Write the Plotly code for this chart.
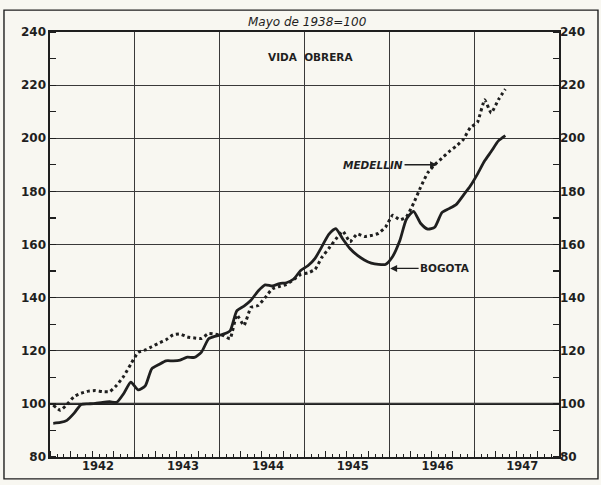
import plotly.graph_objects as go

# ---- data (monthly, Jan 1942 .. May 1947), Mayo de 1938 = 100 ----
months = [f"{1942 + m // 12}-{m % 12 + 1:02d}-15" for m in range(65)]

bogota = [
    92.7, 93.0, 93.8, 96.5, 99.8, 100.0, 100.2, 100.6, 100.8, 100.6, 104.0, 108.2,   # 1942
    105.3, 106.8, 113.2, 114.8, 116.2, 116.2, 116.5, 117.6, 117.5, 119.5, 124.5, 125.5,  # 1943
    126.2, 127.5, 135.0, 136.8, 139.0, 142.5, 144.8, 144.4, 145.3, 145.6, 147.0, 150.2,  # 1944
    152.0, 154.8, 159.0, 163.8, 166.0, 162.0, 158.5, 156.0, 154.2, 153.0, 152.5, 152.5,  # 1945
    155.5, 161.5, 169.5, 172.5, 168.0, 165.8, 166.5, 172.0, 173.5, 175.0, 178.5, 182.0,  # 1946
    186.5, 191.5, 195.0, 199.0, 201.0,                                                   # 1947
]

medellin = [
    99.5, 97.6, 99.8, 102.8, 104.0, 104.8, 105.0, 104.6, 104.6, 107.0, 110.5, 115.0,    # 1942
    119.4, 120.3, 121.5, 122.9, 124.1, 126.0, 126.3, 125.2, 124.8, 124.6, 126.5, 126.2,  # 1943
    125.8, 124.5, 133.5, 129.5, 136.3, 137.0, 140.0, 143.3, 144.2, 145.0, 146.8, 148.7,  # 1944
    149.3, 150.6, 155.0, 158.5, 162.0, 165.0, 161.0, 164.0, 163.0, 163.4, 164.2, 166.5,  # 1945
    171.0, 169.3, 170.4, 175.5, 181.5, 187.0, 190.0, 192.5, 195.0, 197.0, 199.5, 204.0,  # 1946
    206.0, 214.5, 209.5, 214.5, 218.5,                                                   # 1947
]

year_labels = ["1942", "1943", "1944", "1945", "1946", "1947"]
year_label_pos = ["1942-07-27", "1943-07-27", "1944-07-27", "1945-07-27", "1946-07-27", "1947-07-27"]
year_bounds = ["1943-01-01", "1944-01-01", "1945-01-01", "1946-01-01", "1947-01-01"]
y_ticks = [80, 100, 120, 140, 160, 180, 200, 220, 240]
BASE = 100

INK = "#1f1f1f"
GRID = "#3a3a3a"
PAPER = "#f8f7f1"
FONT = "DejaVu Sans"

fig = go.Figure()

fig.add_trace(go.Scatter(
    x=months, y=bogota, mode="lines", name="BOGOTA",
    line=dict(color=INK, width=2.8, shape="spline", smoothing=0.6),
    xaxis="x", yaxis="y", showlegend=False, hoverinfo="skip",
))
fig.add_trace(go.Scatter(
    x=months, y=medellin, mode="lines", name="MEDELLIN",
    line=dict(color=INK, width=3, dash="3px,3px", shape="spline", smoothing=0.4),
    xaxis="x2", yaxis="y2", showlegend=False, hoverinfo="skip",
))

xr = ["1942-01-01", "1948-01-01"]
yr = [80, 240]
tickfont = dict(family=FONT, size=12, color=INK, weight="bold")

fig.update_layout(
    width=601, height=485,
    margin=dict(l=50, r=42, t=32, b=25),
    paper_bgcolor=PAPER, plot_bgcolor=PAPER,
    hovermode=False,
    xaxis=dict(
        type="date", range=xr, tickmode="array", tickvals=year_bounds,
        showticklabels=False, ticks="", showgrid=True, gridcolor=GRID, gridwidth=1.2,
        showline=True, linecolor=INK, linewidth=1.6, mirror=True, zeroline=False,
        minor=dict(dtick="M3", tick0="1942-01-01", ticks="inside", ticklen=6,
                   tickcolor=INK, tickwidth=1, showgrid=False),
    ),
    xaxis2=dict(
        type="date", range=xr, overlaying="x", anchor="y2", side="bottom",
        tickmode="array", tickvals=year_label_pos, ticktext=year_labels,
        tickfont=dict(family=FONT, size=11.5, color=INK, weight="bold"),
        ticks="", showgrid=False, showline=False, zeroline=False,
        minor=dict(dtick="M1", tick0="1942-01-01", ticks="inside", ticklen=3.5,
                   tickcolor=INK, tickwidth=1, showgrid=False),
    ),
    yaxis=dict(
        range=yr, tickmode="array", tickvals=y_ticks, tickfont=tickfont,
        ticks="", showgrid=True, gridcolor=GRID, gridwidth=1.2,
        showline=True, linecolor=INK, linewidth=1.6, mirror=True, zeroline=False,
        minor=dict(dtick=10, tick0=80, ticks="inside", ticklen=6,
                   tickcolor=INK, tickwidth=1.2, showgrid=False),
    ),
    yaxis2=dict(
        range=yr, overlaying="y", anchor="x2", side="right",
        tickmode="array", tickvals=y_ticks, tickfont=tickfont,
        ticks="", showgrid=False, showline=False, zeroline=False,
        minor=dict(dtick=10, tick0=80, ticks="inside", ticklen=6,
                   tickcolor=INK, tickwidth=1.2, showgrid=False),
    ),
    shapes=[
        dict(type="line", xref="paper", x0=0, x1=1, yref="y", y0=BASE, y1=BASE,
             line=dict(color=INK, width=2.2), layer="below"),
        dict(type="rect", xref="paper", yref="paper",
             x0=-0.0904, x1=1.0766, y0=-0.0514, y1=1.0514,
             line=dict(color=INK, width=1.4), layer="below"),
    ],
    annotations=[
        dict(text="<i>Mayo de 1938=100</i>", xref="paper", yref="paper",
             x=0.505, y=1.0234, yanchor="middle", showarrow=False,
             font=dict(family=FONT, size=12, color=INK)),
        dict(text="<b>VIDA  OBRERA</b>", xref="paper", yref="paper",
             x=0.511, y=0.9416, yanchor="middle", showarrow=False,
             font=dict(family=FONT, size=10.5, color=INK)),
        dict(text="<b><i>MEDELLIN</i></b>", x="1946-07-25", y=190, xref="x", yref="y",
             showarrow=True, ax=-64, ay=0, arrowhead=2, arrowsize=1, arrowwidth=1.4,
             arrowcolor=INK, font=dict(family=FONT, size=10.5, color=INK)),
        dict(text="<b>BOGOTA</b>", x="1946-01-04", y=151, xref="x", yref="y",
             showarrow=True, ax=55, ay=0, arrowhead=2, arrowsize=1, arrowwidth=1.4,
             arrowcolor=INK, font=dict(family=FONT, size=10.5, color=INK)),
    ],
)

fig.write_html(
    "out.html",
    config={"displayModeBar": False, "staticPlot": True},
    post_script=f"document.body.style.margin='0';document.body.style.background='{PAPER}';",
)
